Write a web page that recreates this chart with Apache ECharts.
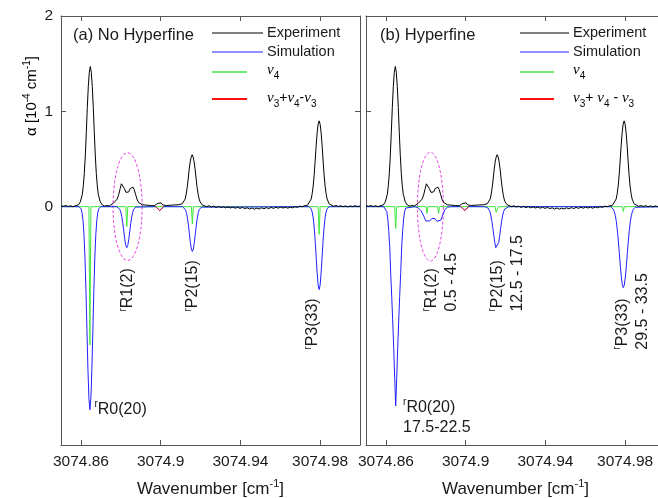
<!DOCTYPE html>
<html>
<head>
<meta charset="utf-8">
<title>Hyperfine comparison</title>
<script src="https://cdn.jsdelivr.net/npm/echarts@6.0.0/dist/echarts.min.js"></script>
<style>
html, body { margin: 0; padding: 0; background: #fff; }
#chart { width: 658px; height: 498px; }
</style>
</head>
<body>
<div id="chart"></div>
<script>
// tick labels
var wavenumberTicks = [3074.86, 3074.9, 3074.94, 3074.98];
var absorptionTicks = [0, 1, 2];

// measured spectrum (same trace in both panels), [wavenumber, alpha]
var experiment = [
  [3074.8500, 0.010], [3074.8512, 0.004], [3074.8524, 0.012], [3074.8536, 0.002], [3074.8548, 0.009],
  [3074.8560, 0.000], [3074.8572, 0.010], [3074.8580, 0.004],
  [3074.8587, 0.018], [3074.8597, 0.05], [3074.8607, 0.13], [3074.8612, 0.22], [3074.8617, 0.35],
  [3074.8622, 0.54], [3074.8627, 0.78], [3074.8632, 1.04], [3074.8637, 1.26], [3074.8642, 1.41],
  [3074.8647, 1.47], [3074.8652, 1.41], [3074.8657, 1.26], [3074.8662, 1.04], [3074.8667, 0.78],
  [3074.8672, 0.54], [3074.8677, 0.35], [3074.8682, 0.22], [3074.8687, 0.13], [3074.8697, 0.05],
  [3074.8707, 0.018], [3074.8718, 0.006], [3074.8730, 0.012], [3074.8742, 0.008],
  [3074.8752, 0.02], [3074.8762, 0.035], [3074.8772, 0.05], [3074.8782, 0.08], [3074.8790, 0.13],
  [3074.8797, 0.19], [3074.8803, 0.24], [3074.8807, 0.25], [3074.8812, 0.235], [3074.8818, 0.19],
  [3074.8826, 0.15], [3074.8834, 0.14], [3074.8840, 0.155], [3074.8847, 0.19], [3074.8855, 0.21],
  [3074.8861, 0.205], [3074.8867, 0.18], [3074.8874, 0.13], [3074.8881, 0.08], [3074.8889, 0.045],
  [3074.8898, 0.025], [3074.8908, 0.02], [3074.8918, 0.01], [3074.8928, 0.016], [3074.8938, 0.005],
  [3074.8948, 0.012], [3074.8958, 0.003], [3074.8968, 0.01],
  [3074.8978, 0.015], [3074.8986, 0.035], [3074.8994, 0.05], [3074.9002, 0.04], [3074.9010, 0.018],
  [3074.9018, 0.004], [3074.9028, 0.012], [3074.9038, 0.002], [3074.9048, 0.015], [3074.9058, 0.006],
  [3074.9068, 0.018], [3074.9078, 0.008], [3074.9088, 0.02],
  [3074.9098, 0.025], [3074.9108, 0.03], [3074.9118, 0.05], [3074.9123, 0.08], [3074.9128, 0.13],
  [3074.9133, 0.20], [3074.9138, 0.29], [3074.9143, 0.39], [3074.9148, 0.47], [3074.9153, 0.52],
  [3074.9158, 0.545], [3074.9163, 0.52], [3074.9168, 0.47], [3074.9173, 0.39], [3074.9178, 0.29],
  [3074.9183, 0.20], [3074.9188, 0.13], [3074.9193, 0.08], [3074.9198, 0.05], [3074.9208, 0.02],
  [3074.9218, 0.008],
  [3074.9230, 0.000], [3074.9242, 0.010], [3074.9254, -0.004], [3074.9266, 0.006], [3074.9278, -0.008],
  [3074.9290, 0.003], [3074.9302, -0.010], [3074.9314, 0.000], [3074.9326, -0.012], [3074.9338, -0.002],
  [3074.9350, -0.014], [3074.9362, -0.004], [3074.9374, -0.016], [3074.9386, -0.006], [3074.9398, -0.018],
  [3074.9410, -0.008], [3074.9422, -0.020], [3074.9434, -0.012], [3074.9446, -0.024], [3074.9458, -0.014],
  [3074.9470, -0.026], [3074.9482, -0.016], [3074.9494, -0.024], [3074.9506, -0.012], [3074.9518, -0.022],
  [3074.9530, -0.010], [3074.9542, -0.020], [3074.9554, -0.008], [3074.9566, -0.018], [3074.9578, -0.006],
  [3074.9590, -0.016], [3074.9602, -0.004], [3074.9614, -0.014], [3074.9626, -0.006], [3074.9638, -0.016],
  [3074.9650, -0.004], [3074.9662, -0.012], [3074.9674, 0.000], [3074.9686, -0.008], [3074.9698, 0.006],
  [3074.9710, 0.000], [3074.9722, 0.010],
  [3074.9735, 0.01], [3074.9745, 0.03], [3074.9755, 0.08], [3074.9760, 0.135], [3074.9765, 0.215],
  [3074.9770, 0.33], [3074.9775, 0.48], [3074.9780, 0.64], [3074.9785, 0.775], [3074.9790, 0.865],
  [3074.9795, 0.90], [3074.9800, 0.865], [3074.9805, 0.775], [3074.9810, 0.64], [3074.9815, 0.48],
  [3074.9820, 0.33], [3074.9825, 0.215], [3074.9830, 0.135], [3074.9835, 0.08], [3074.9845, 0.03],
  [3074.9855, 0.01],
  [3074.9867, 0.004], [3074.9879, 0.012], [3074.9891, 0.002], [3074.9903, 0.010], [3074.9915, 0.000],
  [3074.9927, 0.008], [3074.9939, -0.002], [3074.9951, 0.008], [3074.9963, 0.000], [3074.9975, 0.010],
  [3074.9987, 0.002], [3075.0000, 0.006]
];

// (a) simulation without hyperfine
var simulationNoHf = [
  [3074.8500, 0], [3074.8590, 0],
  [3074.8595, -0.008], [3074.8600, -0.021], [3074.8605, -0.058], [3074.8610, -0.134], [3074.8615, -0.28],
  [3074.8620, -0.52], [3074.8625, -0.865], [3074.8630, -1.28], [3074.8635, -1.70], [3074.8640, -2.01],
  [3074.8645, -2.13], [3074.8650, -2.01], [3074.8655, -1.70], [3074.8660, -1.28], [3074.8665, -0.865],
  [3074.8670, -0.52], [3074.8675, -0.28], [3074.8680, -0.134], [3074.8685, -0.058], [3074.8690, -0.021],
  [3074.8695, -0.008], [3074.8700, 0],
  [3074.8780, 0], [3074.8785, -0.004], [3074.8790, -0.012], [3074.8795, -0.027], [3074.8800, -0.057],
  [3074.8805, -0.105], [3074.8810, -0.175], [3074.8815, -0.259], [3074.8820, -0.343], [3074.8825, -0.406],
  [3074.8830, -0.43], [3074.8835, -0.406], [3074.8840, -0.343], [3074.8845, -0.259], [3074.8850, -0.175],
  [3074.8855, -0.105], [3074.8860, -0.057], [3074.8865, -0.027], [3074.8870, -0.012], [3074.8875, -0.004],
  [3074.8880, 0],
  [3074.8975, 0], [3074.8985, -0.02], [3074.8995, -0.04], [3074.9005, -0.02], [3074.9015, 0],
  [3074.9109, 0], [3074.9114, -0.005], [3074.9119, -0.013], [3074.9124, -0.030], [3074.9129, -0.062],
  [3074.9134, -0.115], [3074.9139, -0.191], [3074.9144, -0.283], [3074.9149, -0.375], [3074.9154, -0.444],
  [3074.9159, -0.47], [3074.9164, -0.444], [3074.9169, -0.375], [3074.9174, -0.283], [3074.9179, -0.191],
  [3074.9184, -0.115], [3074.9189, -0.062], [3074.9194, -0.030], [3074.9199, -0.013], [3074.9204, -0.005],
  [3074.9209, 0],
  [3074.9745, 0], [3074.9750, -0.009], [3074.9755, -0.023], [3074.9760, -0.055], [3074.9765, -0.115],
  [3074.9770, -0.213], [3074.9775, -0.353], [3074.9780, -0.524], [3074.9785, -0.694], [3074.9790, -0.822],
  [3074.9795, -0.87], [3074.9800, -0.822], [3074.9805, -0.694], [3074.9810, -0.524], [3074.9815, -0.353],
  [3074.9820, -0.213], [3074.9825, -0.115], [3074.9830, -0.055], [3074.9835, -0.023], [3074.9840, -0.009],
  [3074.9845, 0], [3075.0000, 0]
];

var nu4NoHf = [
  [3074.8500, 0], [3074.8640, 0], [3074.8645, -1.45], [3074.8650, 0],
  [3074.8825, 0], [3074.8830, -0.21], [3074.8835, 0],
  [3074.9154, 0], [3074.9159, -0.18], [3074.9164, 0],
  [3074.9790, 0], [3074.9795, -0.29], [3074.9800, 0], [3075.0000, 0]
];

// (b) simulation with hyperfine
var simulationHf = [
  [3074.8500, 0], [3074.8589, 0],
  [3074.8599, -0.015], [3074.8604, -0.05], [3074.8609, -0.12], [3074.8614, -0.25], [3074.8619, -0.42],
  [3074.8624, -0.70], [3074.8629, -0.94], [3074.8634, -1.20], [3074.8639, -1.48], [3074.8644, -1.80],
  [3074.8649, -2.09], [3074.8654, -1.80], [3074.8659, -1.48], [3074.8664, -1.20], [3074.8669, -0.94],
  [3074.8674, -0.70], [3074.8679, -0.42], [3074.8684, -0.25], [3074.8689, -0.12], [3074.8694, -0.05],
  [3074.8699, -0.015], [3074.8709, 0],
  [3074.8745, 0], [3074.8760, -0.01], [3074.8775, -0.04], [3074.8790, -0.10], [3074.8800, -0.15],
  [3074.8810, -0.17], [3074.8820, -0.15], [3074.8830, -0.125], [3074.8838, -0.12], [3074.8846, -0.125],
  [3074.8856, -0.155], [3074.8866, -0.17], [3074.8876, -0.14], [3074.8886, -0.08], [3074.8896, -0.03],
  [3074.8910, -0.005], [3074.8925, 0],
  [3074.8975, 0], [3074.8985, -0.02], [3074.8995, -0.04], [3074.9005, -0.02], [3074.9015, 0],
  [3074.9096, 0], [3074.9106, -0.005], [3074.9111, -0.012], [3074.9116, -0.025], [3074.9121, -0.049],
  [3074.9126, -0.088], [3074.9131, -0.145], [3074.9136, -0.218], [3074.9141, -0.30], [3074.9146, -0.375],
  [3074.9151, -0.43], [3074.9156, -0.45], [3074.9161, -0.43], [3074.9166, -0.375], [3074.9171, -0.30],
  [3074.9176, -0.218], [3074.9181, -0.145], [3074.9186, -0.088], [3074.9191, -0.049], [3074.9196, -0.025],
  [3074.9201, -0.012], [3074.9206, -0.005], [3074.9216, 0],
  [3074.9726, 0], [3074.9731, -0.006], [3074.9741, -0.027], [3074.9746, -0.054], [3074.9751, -0.095],
  [3074.9756, -0.158], [3074.9761, -0.247], [3074.9766, -0.36], [3074.9771, -0.49], [3074.9776, -0.625],
  [3074.9781, -0.74], [3074.9786, -0.82], [3074.9791, -0.85], [3074.9796, -0.82], [3074.9801, -0.74],
  [3074.9806, -0.625], [3074.9811, -0.49], [3074.9816, -0.36], [3074.9821, -0.247], [3074.9826, -0.158],
  [3074.9831, -0.095], [3074.9836, -0.054], [3074.9841, -0.027], [3074.9851, -0.006], [3074.9856, 0],
  [3075.0000, 0]
];

var nu4Hf = [
  [3074.8500, 0], [3074.8644, 0], [3074.8649, -0.23], [3074.8654, 0],
  [3074.8801, 0], [3074.8806, -0.07], [3074.8811, 0],
  [3074.8859, 0], [3074.8864, -0.07], [3074.8869, 0],
  [3074.9148, 0], [3074.9153, -0.06], [3074.9159, -0.06], [3074.9164, 0],
  [3074.9786, 0], [3074.9791, -0.05], [3074.9796, 0], [3075.0000, 0]
];

// hot band v3+v4-v3, the small feature near 3074.90
var hotBand = [
  [3074.8975, 0], [3074.8985, -0.02], [3074.8995, -0.04], [3074.9005, -0.02], [3074.9015, 0]
];

// dashed ellipse around rR1(2): [centre x, centre y, half width, half height]
var ellipseNoHf = [[3074.8834, 0, 0.0073, 0.565]];
var ellipseHf = [[3074.8823, 0, 0.0065, 0.57]];

// peak assignments: [line 1, line 2, x, y, rotation]
var peakLabelsNoHf = [
  ['R0(20)', '', 3074.8668, -2.126, 0],
  ['R1(2)', '', 3074.8836, -1.10, 90],
  ['P2(15)', '', 3074.9162, -1.10, 90],
  ['P3(33)', '', 3074.9764, -1.50, 90]
];
var peakLabelsHf = [
  ['R0(20)', '17.5-22.5', 3074.8686, -2.21, 0],
  ['R1(2)', '0.5 - 4.5', 3074.8880, -1.10, 90],
  ['P2(15)', '12.5 - 17.5', 3074.9210, -1.10, 90],
  ['P3(33)', '29.5 - 33.5', 3074.9837, -1.50, 90]
];

var FONT = '"Liberation Sans", Arial, Helvetica, sans-serif';
var AXIS_COLOR = '#555';
var TEXT_COLOR = '#1a1a1a';
var BLUE = '#2020ff';
var GREEN = '#3ee83e';
var RED = '#ff1010';

var chart = echarts.init(document.getElementById('chart'));

function xAxes(gridIndex) {
  var base = {
    type: 'value', gridIndex: gridIndex, min: 3074.85, max: 3075.0,
    axisLine: {show: true, onZero: false, lineStyle: {color: AXIS_COLOR, width: 1}},
    axisTick: {show: true, inside: true, length: 5, customValues: wavenumberTicks, lineStyle: {color: AXIS_COLOR}},
    splitLine: {show: false}
  };
  var bottom = Object.assign({}, base, {
    position: 'bottom',
    axisLabel: {
      show: true, customValues: wavenumberTicks, margin: 9, fontSize: 15.5, fontFamily: FONT, color: TEXT_COLOR,
      formatter: function (v) { return String(+v.toFixed(2)); }
    },
    name: '{t|Wavenumber [cm}{s|-1}{t|]}',
    nameLocation: 'middle',
    nameGap: 33,
    nameTextStyle: {
      rich: {
        t: {fontSize: 17, fontFamily: FONT, color: TEXT_COLOR, lineHeight: 20, verticalAlign: 'bottom'},
        s: {fontSize: 11, fontFamily: FONT, color: TEXT_COLOR, lineHeight: 11, padding: [0, 0, 11, 0], verticalAlign: 'top'}
      }
    }
  });
  var top = Object.assign({}, base, {position: 'top', axisLabel: {show: false}});
  return [bottom, top];
}

function yAxes(gridIndex, withLabels) {
  var base = {
    type: 'value', gridIndex: gridIndex, min: -2.5, max: 2,
    axisLine: {show: true, onZero: false, lineStyle: {color: AXIS_COLOR, width: 1}},
    axisTick: {show: true, inside: true, length: 5, customValues: absorptionTicks, lineStyle: {color: AXIS_COLOR}},
    splitLine: {show: false}
  };
  var left = Object.assign({}, base, {
    position: 'left',
    axisLabel: {show: withLabels, customValues: absorptionTicks, margin: 8, fontSize: 15.5, fontFamily: FONT, color: TEXT_COLOR}
  });
  var right = Object.assign({}, base, {position: 'right', axisLabel: {show: false}});
  return [left, right];
}

function line(name, data, color, axis, width) {
  return {
    name: name, type: 'line', data: data, xAxisIndex: axis, yAxisIndex: axis,
    showSymbol: false, symbol: 'none', animation: false, silent: true,
    lineStyle: {color: color, width: width || 1}
  };
}

function ellipseSeries(data, axis) {
  return {
    type: 'custom', xAxisIndex: axis, yAxisIndex: axis, data: data, animation: false, silent: true,
    renderItem: function (params, api) {
      var c = api.coord([api.value(0), api.value(1)]);
      var r = api.size([api.value(2), api.value(3)]);
      var pts = [];
      for (var i = 0; i <= 90; i++) {
        var a = i / 90 * Math.PI * 2;
        pts.push([c[0] + r[0] * Math.cos(a), c[1] + r[1] * Math.sin(a)]);
      }
      return {type: 'polyline', shape: {points: pts}, style: {stroke: '#e640e6', lineWidth: 1, lineDash: [3, 2], fill: null}};
    }
  };
}

var peakRich = {
  r: {fontSize: 10, fontFamily: FONT, color: TEXT_COLOR, lineHeight: 10, padding: [0, 0, 12, 0], verticalAlign: 'top'},
  t: {fontSize: 16, fontFamily: FONT, color: TEXT_COLOR, lineHeight: 20}
};

function labelSeries(labels, axis) {
  return {
    type: 'scatter', xAxisIndex: axis, yAxisIndex: axis, animation: false, silent: true,
    symbolSize: 1, itemStyle: {color: '#fff', opacity: 1},
    data: labels.map(function (l) {
      return {
        value: [l[2], l[3]],
        label: {
          show: true, position: 'inside', align: 'left', verticalAlign: 'middle', rotate: l[4],
          color: TEXT_COLOR, textBorderWidth: 0, opacity: 1,
          formatter: '{r|r}{t|' + l[0] + '}' + (l[1] ? '\n{t|' + l[1] + '}' : ''),
          rich: peakRich
        }
      };
    })
  };
}

// legend drawn by hand: line samples of two lengths, greek subscripts
var nuRich = {
  n: {fontSize: 15, fontFamily: '"Liberation Serif", serif', fontStyle: 'italic', color: TEXT_COLOR, lineHeight: 16, verticalAlign: 'top'},
  s: {fontSize: 10, fontFamily: FONT, color: TEXT_COLOR, lineHeight: 10, padding: [10, 0, 0, 0]},
  p: {fontSize: 14, fontFamily: FONT, color: TEXT_COLOR, lineHeight: 16, verticalAlign: 'top'}
};

function legendGraphics(x0, longEnd, shortEnd, textX, hotText) {
  var g = [];
  var rows = [[33, '#000', longEnd, 1], [52, BLUE, longEnd, 1], [72, GREEN, shortEnd, 1.5], [99, RED, shortEnd, 2]];
  rows.forEach(function (r) {
    g.push({type: 'line', shape: {x1: x0, y1: r[0], x2: r[2], y2: r[0]}, style: {stroke: r[1], lineWidth: r[3]}});
  });
  g.push({type: 'text', x: textX, y: 33, style: {text: 'Experiment', fontSize: 14.5, fontFamily: FONT, fill: TEXT_COLOR, verticalAlign: 'middle'}});
  g.push({type: 'text', x: textX, y: 52, style: {text: 'Simulation', fontSize: 14.5, fontFamily: FONT, fill: TEXT_COLOR, verticalAlign: 'middle'}});
  g.push({type: 'text', x: textX, y: 63, style: {text: '{n|ν}{s|4}', rich: nuRich, verticalAlign: 'top'}});
  g.push({type: 'text', x: textX, y: 91, style: {text: hotText, rich: nuRich, verticalAlign: 'top'}});
  return g;
}

var graphics = []
  .concat(legendGraphics(212, 263, 247, 267, '{n|ν}{s|3}{p|+}{n|ν}{s|4}{p|-}{n|ν}{s|3}'))
  .concat(legendGraphics(520, 569, 554, 573, '{n|ν}{s|3}{p|+ }{n|ν}{s|4}{p| - }{n|ν}{s|3}'))
  .concat([
    {type: 'text', x: 73, y: 35, style: {text: '(a) No Hyperfine', fontSize: 16.5, fontFamily: FONT, fill: TEXT_COLOR, verticalAlign: 'middle'}},
    {type: 'text', x: 380, y: 35, style: {text: '(b) Hyperfine', fontSize: 16.5, fontFamily: FONT, fill: TEXT_COLOR, verticalAlign: 'middle'}},
    {
      type: 'text', x: 31, y: 96, rotation: Math.PI / 2,
      style: {
        text: '{t|α [10}{s|-4}{t| cm}{s|-1}{t|]}', align: 'center', verticalAlign: 'middle',
        rich: {
          t: {fontSize: 15, fontFamily: FONT, color: TEXT_COLOR, lineHeight: 17, verticalAlign: 'bottom'},
          s: {fontSize: 10, fontFamily: FONT, color: TEXT_COLOR, lineHeight: 10, padding: [0, 0, 9, 0], verticalAlign: 'top'}
        }
      }
    }
  ]);

var option = {
  backgroundColor: '#fff',
  animation: false,
  grid: [
    {left: 61, top: 16, width: 299, height: 429, outerBoundsMode: 'none', containLabel: false},
    {left: 366, top: 16, width: 299, height: 429, outerBoundsMode: 'none', containLabel: false}
  ],
  xAxis: xAxes(0).concat(xAxes(1)),
  yAxis: yAxes(0, true).concat(yAxes(1, false)),
  graphic: graphics,
  series: [
    line('nu4', nu4NoHf, GREEN, 0),
    line('Simulation', simulationNoHf, BLUE, 0),
    line('Experiment', experiment, '#000', 0),
    line('hot band', hotBand, RED, 0),
    ellipseSeries(ellipseNoHf, 0),
    labelSeries(peakLabelsNoHf, 0),
    line('nu4', nu4Hf, GREEN, 2),
    line('Simulation', simulationHf, BLUE, 2),
    line('Experiment', experiment, '#000', 2),
    line('hot band', hotBand, RED, 2),
    ellipseSeries(ellipseHf, 2),
    labelSeries(peakLabelsHf, 2)
  ]
};

chart.setOption(option);
</script>
</body>
</html>
